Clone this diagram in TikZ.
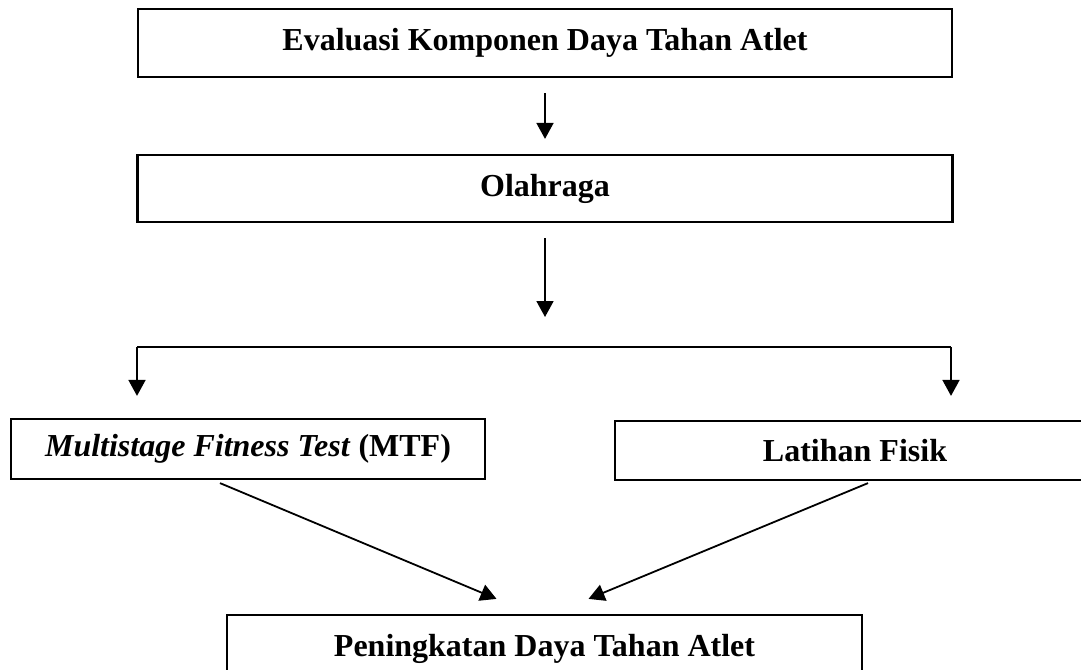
\documentclass[tikz,border=0pt]{standalone}
\usepackage{fontspec}
\setmainfont{Liberation Serif}
\usepackage{tikz}
\usetikzlibrary{arrows.meta, positioning, calc}
\tikzset{
    blk/.style ={draw=black, line width=1.1pt, fill=white,
                 minimum height=34pt, align=center, inner sep=0pt,
                 font=\fontsize{16}{19}\selectfont\bfseries},
    ar/.style  ={-{Triangle[length=8pt, width=8.5pt]}, line width=0.9pt, draw=black},
    ln/.style  ={line width=0.9pt, draw=black}
}

\begin{document}
\begin{tikzpicture}[x=0.5pt, y=-0.5pt]
  \clip (0,0) rectangle (1081,669);
  % boxes
  \node[blk, minimum width=407pt] (eval) at (545,43) {Evaluasi Komponen Daya Tahan Atlet};
  \node[blk, minimum width=407.5pt, minimum height=33.5pt] (olah) at (545,188.5) {Olahraga};
  \node[blk, minimum width=237pt, minimum height=30pt] (mtf) at (248,449)
       {\textit{Multistage Fitness Test} (MTF)};
  \node[blk, minimum width=240pt, minimum height=29.5pt] (latih) at (855,450.5) {Latihan Fisik};
  \node[blk, minimum width=317.5pt] (hasil) at (544.5,649) {Peningkatan Daya Tahan Atlet};

  % branch points
  \coordinate (split) at (545,347);
  \coordinate (jl) at (137,347);
  \coordinate (jr) at (951,347);

  % connectors
  \draw[ar, shorten <=7.5pt, shorten >=7.5pt] (eval) -- (olah);
  \draw[ar, shorten <=7.5pt, shorten >=15pt] (olah) -- (split);
  \draw[ln] (jl) -- (jr);
  \draw[ar, shorten >=11pt] (jl) -- (jl |- mtf.north);
  \draw[ar, shorten >=12pt] (jr) -- (jr |- latih.north);
  \draw[ar] ([xshift=-14pt, yshift=-1.5pt]mtf.south) -- ([xshift=-24pt, yshift=7.5pt]hasil.north);
  \draw[ar] ([xshift=6.5pt, yshift=-1pt]latih.south) -- ([xshift=22pt, yshift=7.5pt]hasil.north);
\end{tikzpicture}
\end{document}
